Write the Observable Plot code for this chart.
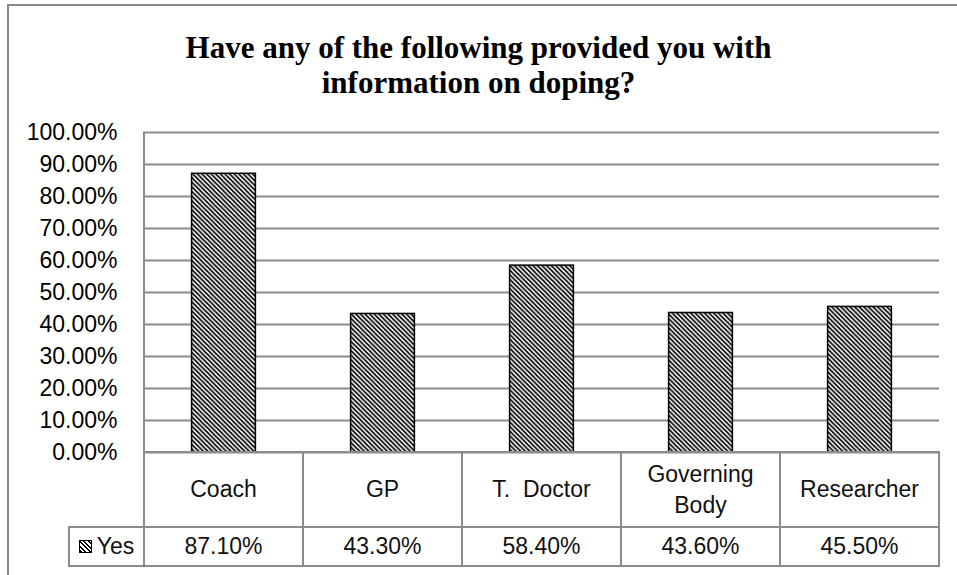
<!DOCTYPE html>
<html><head><meta charset="utf-8">
<script src="https://cdn.jsdelivr.net/npm/d3@7"></script>
<script src="https://cdn.jsdelivr.net/npm/@observablehq/plot@0.6"></script>
<style>
html,body{margin:0;padding:0;background:#fff;overflow:hidden;}
#wrap{position:relative;width:957px;height:575px;overflow:hidden;font-family:"Liberation Sans",Arial,sans-serif;}
#frame{position:absolute;left:7px;top:4px;width:1000px;height:700px;border:2px solid #898989;box-sizing:border-box;}
#title{position:absolute;left:0;top:30px;width:957px;text-align:center;font-family:"Liberation Serif","Times New Roman",serif;font-weight:bold;font-size:31px;line-height:35px;color:#000;}
#chart{position:absolute;left:0;top:110px;}
.cell{position:absolute;box-sizing:border-box;display:flex;align-items:center;justify-content:center;text-align:center;font-size:23px;line-height:31px;color:#111;border:2px solid #8c8c8c;padding:0 4px;}
.vline{position:absolute;width:2px;background:#8c8c8c;}
.swatch{display:inline-block;width:11px;height:11px;border:1.5px solid #000;margin-right:5px;background:repeating-linear-gradient(45deg,#000 0 1.6px,#fff 1.6px 3.2px);}
</style></head>
<body><div id="wrap"><div id="frame"></div><div id="title">Have any of the following provided you with<br>information on doping?</div><div id="chart"></div></div>
<script>
const categories = ["Coach", "GP", "T.\u00a0 Doctor", "Governing Body", "Researcher"];
const values = [87.1, 43.3, 58.4, 43.6, 45.5];
const valueLabels = ["87.10%", "43.30%", "58.40%", "43.60%", "45.50%"];
const seriesName = "Yes";
const yTicks = [0, 10, 20, 30, 40, 50, 60, 70, 80, 90, 100];

const data = categories.map((c, i) => ({category: c, value: values[i]}));
const svgTop = 110;
const barWidth = 64;
const plotW = 957 - 143 - 18;
const inset = (plotW / categories.length - barWidth) / 2;

const chart = Plot.plot({
  width: 957, height: 343,
  marginLeft: 143, marginRight: 18, marginTop: 22, marginBottom: 1,
  style: {fontFamily: "Liberation Sans, Arial, sans-serif", fontSize: "23px", color: "#000", background: "transparent", overflow: "visible"},
  x: {domain: categories, padding: 0, axis: null},
  y: {domain: [0, 100], label: null},
  marks: [
    Plot.gridY(yTicks, {stroke: "#8c8c8c", strokeOpacity: 1, strokeWidth: 2}),
    Plot.axisY(yTicks, {tickFormat: d => d.toFixed(2) + "%", tickSize: 0, tickPadding: 26, fontSize: 23, label: null}),
    Plot.barY(data, {x: "category", y: "value", fill: "url(#hatch)", stroke: "#000", strokeWidth: 1.5, insetLeft: inset, insetRight: inset})
  ]
});
const ns = "http://www.w3.org/2000/svg";
const defs = document.createElementNS(ns, "defs");
defs.innerHTML = '<pattern id="hatch" patternUnits="userSpaceOnUse" width="4.6" height="4.6"><rect width="4.6" height="4.6" fill="#fff"/><path d="M-1,-1 L5.6,5.6 M-1,3.6 L1,5.6 M3.6,-1 L5.6,1" stroke="#000" stroke-width="1.7"/></pattern>';
chart.prepend(defs);
document.getElementById("chart").appendChild(chart);

// data table below the plot, aligned with the x scale
const xs = chart.scale("x"), ysc = chart.scale("y");
const wrap = document.getElementById("wrap");
const y0 = svgTop + ysc.apply(0);
const y100 = svgTop + ysc.apply(100);
const row1H = 75, row2H = 39;
const bw = xs.bandwidth;
function cell(left, top, w, h, html) {
  const d = document.createElement("div");
  d.className = "cell";
  d.style.left = (left - 1) + "px"; d.style.top = (top - 1) + "px";
  d.style.width = (w + 2) + "px"; d.style.height = (h + 2) + "px";
  d.innerHTML = html;
  wrap.appendChild(d);
}
categories.forEach((c, i) => {
  const left = xs.apply(c);
  cell(left, y0, bw, row1H, c);
  cell(left, y0 + row1H, bw, row2H, valueLabels[i]);
});
const legendLeft = 69;
cell(legendLeft, y0 + row1H, xs.apply(categories[0]) - legendLeft, row2H, '<span class="swatch"></span>' + seriesName);
const vl = document.createElement("div");
vl.className = "vline";
vl.style.left = (xs.apply(categories[0]) - 1) + "px";
vl.style.top = y100 + "px";
vl.style.height = (y0 - y100) + "px";
wrap.appendChild(vl);
</script>
</body></html>
